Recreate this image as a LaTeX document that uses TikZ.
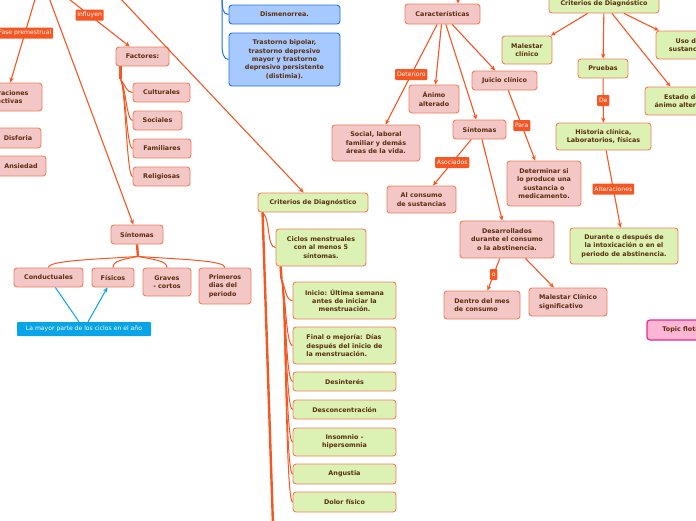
\documentclass[tikz,border=0pt]{standalone}
\usepackage{fontspec}
\setmainfont{DejaVu Sans}
\usetikzlibrary{arrows.meta}
\definecolor{linea}{RGB}{245,86,34}
\definecolor{borde}{RGB}{240,128,92}
\definecolor{rosado}{RGB}{243,199,197}
\definecolor{verdec}{RGB}{219,242,180}
\definecolor{azulc}{RGB}{166,202,255}
\definecolor{azulb}{RGB}{32,112,232}
\definecolor{texto}{RGB}{92,45,15}
\definecolor{celeste}{RGB}{8,164,232}
\definecolor{rosat}{RGB}{255,182,212}
\definecolor{magen}{RGB}{232,40,140}
\newcommand{\tfont}{\fontsize{6.4}{8.4}\selectfont\bfseries}
\newcommand{\lfont}{\fontsize{6.1}{7}\selectfont}

\begin{document}
\begin{tikzpicture}[x=1pt,y=-1pt]
\tikzset{
  tema/.style={draw=borde, line width=0.9pt, rounded corners=3pt, text=texto, font=\tfont, align=center, inner sep=0pt},
  rosa/.style={tema, fill=rosado},
  verde/.style={tema, fill=verdec},
  azul/.style={tema, fill=azulc, draw=azulb},
  tam/.style 2 args={minimum width=#1pt, minimum height=#2pt},
  etiq/.style={fill=linea, text=white, font=\lfont, inner sep=1.8pt, rounded corners=1pt, minimum height=11pt},
  flecha/.style={draw=linea, line width=1.1pt, -{Stealth[length=5pt,width=4.5pt]}},
  rama/.style={draw=linea, line width=1pt},
  tallo/.style={draw=linea, line width=2.4pt},
  celes/.style={draw=celeste, line width=1pt},
}
\useasboundingbox (0,0) rectangle (696,520);
\clip (0,0) rectangle (696,520);

% ramas que vienen de fuera
\coordinate (pF) at (36,-4);
\coordinate (pI) at (65,-4);
\coordinate (pS) at (48,-5);
\coordinate (pD) at (118,-4);
\coordinate (pB) at (222,-4);
\coordinate (pC) at (458,-10);
\coordinate (cfin) at (273,525);

% izquierda
\node[rosa,tam={53}{19}] (fac) at (142.5,56.5) {Factores:};
\node[rosa,tam={57}{19}] (cul) at (161.5,92.5) {Culturales};
\node[rosa,tam={49}{19}] (soc) at (157.5,120.5) {Sociales};
\node[rosa,tam={58}{19}] (fam) at (162,148.5) {Familiares};
\node[rosa,tam={57}{19}] (rel) at (161.5,176.5) {Religiosas};
\node[rosa,tam={72}{28}] (alt) at (6,97) {Alteraciones\\afectivas};
\node[rosa,tam={46}{20}] (disf) at (18,138) {Disforia};
\node[rosa,tam={50}{20}] (ansi) at (21,166) {Ansiedad};
\node[rosa,tam={52}{19}] (sint) at (137,234.5) {Síntomas};
\node[rosa,tam={69}{19}] (cond) at (48.5,277.5) {Conductuales};
\node[rosa,tam={42}{19}] (fisi) at (113,277.5) {Físicos};
\node[rosa,tam={48}{28}] (grav) at (167,282) {Graves\\- cortos};
\node[rosa,tam={52}{36},align=left] (prim) at (225,286) {Primeros\\dias del\\periodo};
\node[fill=celeste,text=white,font=\lfont,tam={134}{14},rounded corners=1pt] (mayor) at (84,329) {La mayor parte de los ciclos en el año};

\node[azul,tam={111}{19}] (dism) at (284.5,14.5) {Dismenorrea.};
\node[azul,tam={111}{53}] (tras) at (284.5,59.5) {Trastorno bipolar,\\trastorno depresivo\\mayor y trastorno\\depresivo persistente\\(distimia).};

\node[verde,tam={110}{19}] (crit1) at (313,202.5) {Criterios de Diagnóstico};
\node[verde,tam={90}{37}] (cic) at (321,247.5) {Ciclos menstruales\\con al menos 5\\síntomas.};
\node[verde,tam={103}{37}] (ini) at (344.5,300.5) {Inicio: Última semana\\antes de iniciar la\\menstruación.};
\node[verde,tam={103}{37},align=left] (fin) at (344.5,345.5) {Final o mejoría: Días\\después del inicio de\\la menstruación.};
\node[verde,tam={103}{19}] (desi) at (344.5,381.5) {Desinterés};
\node[verde,tam={103}{19}] (desc) at (344.5,409.5) {Desconcentración};
\node[verde,tam={103}{28}] (inso) at (344.5,442) {Insomnio -\\hipersomnia};
\node[verde,tam={103}{20}] (angu) at (344.5,474) {Angustia};
\node[verde,tam={103}{20}] (dolo) at (344.5,502) {Dolor físico};

% centro
\node[rosa,tam={75}{20}] (car) at (442.5,14) {Características};
\node[rosa,tam={88}{36}] (area) at (376,143) {Social, laboral\\familiar y demás\\áreas de la vida.};
\node[rosa,tam={50}{28}] (ani) at (434,99) {Ánimo\\alterado};
\node[rosa,tam={53}{19}] (sin2) at (479.5,129.5) {Síntomas};
\node[rosa,tam={65}{19}] (jui) at (504.5,80.5) {Juicio clínico};
\node[rosa,tam={74}{45}] (det) at (544,183.5) {Determinar si\\lo produce una\\sustancia o\\medicamento.};
\node[rosa,tam={69}{27}] (alc) at (421.5,199.5) {Al consumo\\de sustancias};
\node[rosa,tam={94}{37}] (dsa) at (507,239.5) {Desarrollados\\durante el consumo\\o la abstinencia.};
\node[rosa,tam={76}{28},align=left] (den) at (482,305) {Dentro del mes\\de consumo};
\node[rosa,tam={78}{28},align=left] (mal2) at (568,302) {Malestar Clínico\\significativo};

% derecha
\node[verde,tam={110}{19}] (crit2) at (604,3.5) {Criterios de Diagnóstico};
\node[verde,tam={50}{28}] (malc) at (527,50) {Malestar\\clínico};
\node[verde,tam={64}{28}] (uso) at (688,45) {Uso de\\sustancias};
\node[verde,tam={50}{19}] (pru) at (603,68.5) {Pruebas};
\node[verde,tam={74}{28}] (est) at (682,101) {Estado de\\ánimo alterado};
\node[verde,tam={95}{27}] (his) at (603.5,136.5) {Historia clínica,\\Laboratorios, físicas};
\node[verde,tam={108}{36}] (dur) at (624,246) {Durante o después de\\la intoxicación o en el\\periodo de abstinencia.};
\node[tema,fill=rosat,draw=magen,line width=1.2pt,tam={80}{20}] (flot) at (687,330) {Topic flotante};

% conectores
\draw[flecha] (pF) -- node[etiq,pos=0.43]{Fase premestrual} (alt);
\draw[flecha] (pI) -- node[etiq,pos=0.38]{Influyen} (fac);
\draw[flecha] (pS) -- (sint);
\draw[flecha] (pD) -- (crit1);
\draw[flecha] (pC) -- (car.north -| pC);

\draw[tallo] (fac.south west) ++(5,0) coordinate (fs) -- ++(0,13) coordinate (fr);
\foreach \h in {cul,soc,fam,rel}
  \draw[rama] (fr) .. controls +(5,6) and +(-6,0) .. (\h.west);

\draw[tallo] (sint.south) -- ++(1,12) coordinate (sr);
\foreach \h/\d in {cond/-45,fisi/-15,grav/15,prim/45}
  \draw[rama] (sr) .. controls +(\d,3) and +(0,-7) .. (\h.north);

\draw[celes] (mayor) -- (cond);
\draw[celes,-{Stealth[length=5pt,width=4.5pt]}] (mayor) -- (fisi);

\draw[azulb,line width=1pt] (pB) .. controls +(0,12) and +(-6,0) .. (dism.west);
\draw[azulb,line width=1pt] (pB) -- ++(0,48) .. controls +(0,9) and +(-5,0) .. (tras.west);

\draw[tallo] (crit1.south west) ++(5,0) coordinate (cs) -- (cfin);
\draw[rama] (cs) .. controls +(8,6) and +(-9,0) .. (cic.west);
\draw[tallo] (cic.south west) ++(5,0) coordinate (ks) -- ++(1,13) coordinate (kr);
\foreach \h in {ini,fin,desi,desc,inso,angu,dolo}
  \draw[rama] (kr) .. controls +(4,8) and +(-7,0) .. (\h.west);

\draw[flecha] (car) -- node[etiq,midway]{Deterioro} (area);
\draw[flecha] (car) -- (ani);
\draw[flecha] (car) -- (sin2);
\draw[flecha] (car) -- (jui);
\draw[flecha] (jui) -- node[etiq,midway]{Para} (det);
\draw[flecha] (sin2) -- node[etiq,midway]{Asociados} (alc);
\draw[flecha] (sin2) -- (dsa);
\draw[flecha] (dsa) -- node[etiq,midway]{o} (den);
\draw[flecha] (dsa) -- (mal2);

\draw[flecha] (crit2) -- (malc);
\draw[flecha] (crit2) -- (pru);
\draw[flecha] (crit2) -- (est);
\draw[flecha] (crit2) -- (uso);
\draw[flecha] (pru) -- node[etiq,midway]{De} (his);
\draw[flecha] (his) -- node[etiq,midway]{Alteraciones} (dur);
\end{tikzpicture}
\end{document}
